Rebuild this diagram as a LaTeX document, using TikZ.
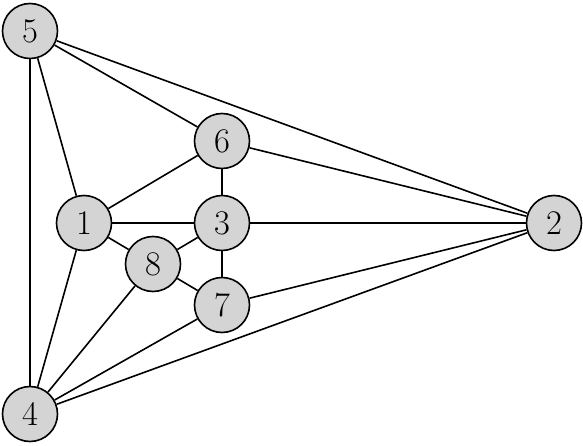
\documentclass[tikz,border=0pt]{standalone}
\usepackage{amsmath}
\usepackage{amssymb}
\usepackage{tikz}

\begin{document}
\begin{tikzpicture}[x=0.5pt, y=0.5pt, vertex/.style={circle, draw, thick, fill=black!17, minimum size=27.5pt, inner sep=0pt, font=\LARGE}]
                \useasboundingbox (0, 0) rectangle (583, 445);

                \node[vertex] (v5) at (30, 414) {$5$};
                \node[vertex] (v4) at (30, 31) {$4$};
                \node[vertex] (v2) at (554, 222) {$2$};
                \node[vertex] (v1) at (84, 222) {$1$};
                \node[vertex] (v3) at (222, 222) {$3$};
                \node[vertex] (v6) at (222, 304) {$6$};
                \node[vertex] (v7) at (222, 140) {$7$};
                \node[vertex] (v8) at (153, 181) {$8$};

                \foreach \a/\b in {5/6, 5/2, 5/1, 5/4, 6/2, 6/1, 6/3, 1/3, 1/8, 1/4, 3/2, 3/8, 3/7, 8/7, 8/4, 7/4, 7/2, 4/2} {
                    \draw[thick] (v\a) -- (v\b);
                }
            \end{tikzpicture}
\end{document}
